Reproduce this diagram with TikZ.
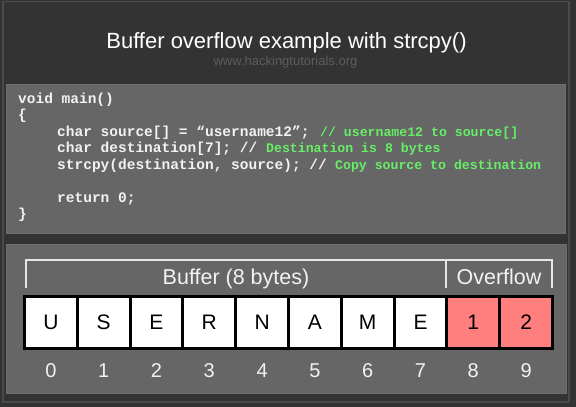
\documentclass[tikz,border=0pt]{standalone}
\usepackage{fontspec}
\setmainfont{Liberation Sans}
\newfontfamily\codefont{Liberation Mono}
\definecolor{bgdark}{HTML}{333333}
\definecolor{framecol}{HTML}{4A4A4A}
\definecolor{panelfill}{HTML}{666666}
\definecolor{paneledge}{HTML}{6E6E6E}
\definecolor{codewhite}{HTML}{F2F2F2}
\definecolor{commentgreen}{HTML}{66EE66}
\definecolor{subgray}{HTML}{5C5C5C}
\definecolor{overred}{HTML}{FF7F7F}
\definecolor{bracketcol}{HTML}{E6E6E6}
\tikzset{
  panelbox/.style={fill=panelfill, draw=paneledge, line width=0.8pt},
  codeline/.style={anchor=base west, inner sep=0pt, text=codewhite,
    font=\codefont\bfseries\fontsize{14.5}{16}\selectfont},
  commentline/.style={anchor=base west, inner sep=0pt, text=commentgreen,
    font=\codefont\bfseries\fontsize{13.2}{16}\selectfont},
  cellbox/.style={draw=black, line width=3pt, fill=white, minimum width=52.8pt,
    minimum height=52pt, inner sep=0pt, text=black, font=\fontsize{21}{24}\selectfont},
  overcell/.style={cellbox, fill=overred},
  idxlabel/.style={anchor=base, inner sep=0pt, text=codewhite, font=\fontsize{20}{24}\selectfont},
  bracketline/.style={draw=bracketcol, line width=1.5pt},
  seclabel/.style={anchor=base, inner sep=0pt, text=codewhite, font=\fontsize{21.5}{26}\selectfont}
}
\begin{document}
\begin{tikzpicture}[x=1pt,y=-1pt]
\useasboundingbox (0,0) rectangle (576,407);
\fill[bgdark] (0,0) rectangle (576,407);
\draw[framecol, line width=1.2pt] (3,1.5) rectangle (569,402);
% title
\node[anchor=base, inner sep=0pt, text=white, font=\fontsize{22}{26}\selectfont] (title) at (286.5,48) {Buffer overflow example with strcpy()};
\node[anchor=base, inner sep=0pt, text=subgray, font=\fontsize{13}{15}\selectfont] (subtitle) at (285.5,65) {www.hackingtutorials.org};
% code panel
\draw[panelbox] (6,84) rectangle (565,233);
\node[codeline] (l1) at (18,103) {void main()};
\node[codeline] (l2) at (18,119.5) {\{};
\node[codeline] (l3) at (57,136) {char source[] = “username12”;};
\node[commentline] (c3) at (320,136) {// username12 to source[]};
\node[codeline] (l4) at (57,152.5) {char destination[7]; //};
\node[commentline] (c4) at (266,152.5) {Destination is 8 bytes};
\node[codeline] (l5) at (57,169) {strcpy(destination, source); //};
\node[commentline] (c5) at (335,169) {Copy source to destination};
\node[codeline] (l6) at (57,202) {return 0;};
\node[codeline] (l7) at (18,218.5) {\}};
% buffer panel
\draw[panelbox] (6,244) rectangle (566,393);
\foreach \ch [count=\k from 0] in {U,S,E,R,N,A,M,E} {
  \node[cellbox] (cell\k) at (50.9+52.8*\k,322) {\ch};
}
\node[overcell] (cell8) at (50.9+52.8*8,322) {1};
\node[overcell] (cell9) at (50.9+52.8*9,322) {2};
\foreach \k in {0,...,9} {
  \node[idxlabel] (idx\k) at (50.9+52.8*\k,377) {\k};
}
% bracket
\coordinate (bl) at (26,288);
\coordinate (blt) at (26,260);
\coordinate (bm) at (446,288);
\coordinate (bmt) at (446,260);
\coordinate (br) at (552,288);
\coordinate (brt) at (552,260);
\draw[bracketline] (bl) -- (blt) -- (brt) -- (br);
\draw[bracketline] (bmt) -- (bm);
\node[seclabel] (buflabel) at (236,284) {Buffer (8 bytes)};
\node[seclabel] (ovlabel) at (499,284) {Overflow};
\end{tikzpicture}
\end{document}
